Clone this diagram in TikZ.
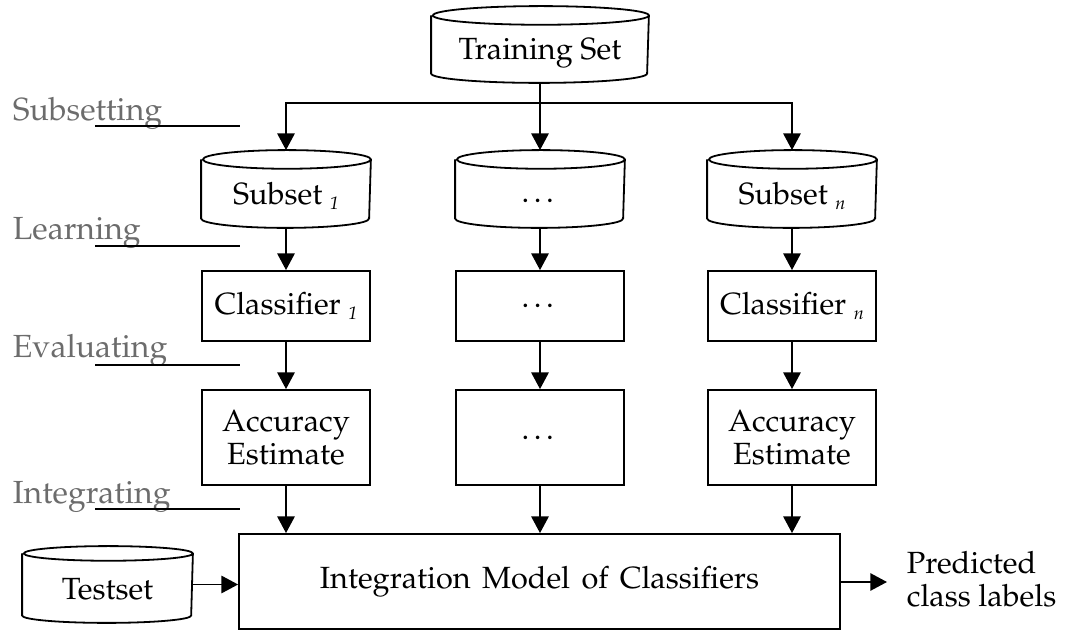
\documentclass[tikz,border=0pt]{standalone}
\usepackage[T1]{fontenc}
\usepackage{mathpazo}
\usetikzlibrary{arrows.meta}
\definecolor{stagegray}{RGB}{108,108,108}
% database drum around a named rectangle node: #1 name, #2 half width, #3 rim radius
\newcommand\drum[3]{%
  \draw ([yshift=-#3]#1.north west) -- ([yshift=#3]#1.south west)
    arc[start angle=180,end angle=360,x radius=#2,y radius=#3]
    -- ([yshift=-#3]#1.north east)
    arc[start angle=0,end angle=360,x radius=#2,y radius=#3];}
% text set on a baseline a fixed distance below the node centre
\newcommand\drumtext[2]{\raisebox{-#1}[0pt][0pt]{#2}}
\newcommand\idx[1]{\raisebox{-0.35ex}{\fontsize{13.5}{14}\selectfont\itshape #1}}
\begin{document}
\begin{tikzpicture}[x=0.75pt,y=-0.75pt,line width=1.35pt,
  every node/.style={font=\fontsize{23}{25}\selectfont},
  procbox/.style={draw,rectangle,inner sep=0pt,minimum width=126pt,align=center},
  drumnode/.style={rectangle,inner sep=0pt,minimum width=126pt,minimum height=57pt},
  flow/.style={-{Triangle[length=12.5pt,width=13pt]}},
  stage/.style={text=stagegray,anchor=base west,inner sep=0pt,font=\fontsize{24}{26}\selectfont},
  stagerule/.style={line width=1.35pt}]
\useasboundingbox (0,0) rectangle (1065,630);

% data sources
\node[drumnode,minimum width=162pt,minimum height=56.25pt] (train) at (540,44.5) {\drumtext{11.5pt}{Training Set}};
\drum{train}{81pt}{7pt}
\node[drumnode] (sub1) at (286,189) {\drumtext{11.5pt}{Subset \idx{1}}};
\node[drumnode] (sub2) at (540,189) {\drumtext{10pt}{\dots}};
\node[drumnode] (sub3) at (792,189) {\drumtext{11.5pt}{Subset \idx{n}}};
\foreach \s in {sub1,sub2,sub3} {\drum{\s}{63pt}{7pt}}
\node[drumnode,minimum width=126.75pt,minimum height=56.25pt] (test) at (107.5,584.5) {\drumtext{11.5pt}{Testset}};
\drum{test}{63.4pt}{5.5pt}

% learners
\node[procbox,minimum height=52.5pt] (cls1) at (286,306) {Classifier \idx{1}};
\node[procbox,minimum height=52.5pt] (cls2) at (540,306) {\dots};
\node[procbox,minimum height=52.5pt] (cls3) at (792,306) {Classifier \idx{n}};
\node[procbox,minimum height=71.25pt] (acc1) at (286,437.5) {Accuracy\\Estimate};
\node[procbox,minimum height=71.25pt] (acc2) at (540,437.5) {\dots};
\node[procbox,minimum height=71.25pt] (acc3) at (792,437.5) {Accuracy\\Estimate};
\node[procbox,minimum width=450.75pt,minimum height=71.25pt] (integ) at (539.5,581.5) {Integration\hspace{0.12em} Model\hspace{0.12em} of\hspace{0.12em} Classifiers};
\node[anchor=west,align=left,inner sep=0pt] (out) at (906,579) {Predicted\\class labels};

% connectors
\coordinate (split) at (540,103);
\draw (train.south) -- (split);
\draw[flow] (split) -| (sub1.north);
\draw[flow] (split) -- (sub2.north);
\draw[flow] (split) -| (sub3.north);
\foreach \i in {1,2,3} {
  \draw[flow] (sub\i.south) -- (cls\i.north);
  \draw[flow] (cls\i.south) -- (acc\i.north);
  \draw[flow] (acc\i.south) -- (acc\i.south |- integ.north);
}
\draw[flow] (test.east) -- (test.east -| integ.west);
\coordinate (outtip) at (887,582);
\draw[flow] (integ.east |- outtip) -- (outtip);

% stage labels with rules
\node[stage] (stsub) at (12,121) {Subsetting};
\node[stage] (stlearn) at (12,240) {Learning};
\node[stage] (steval) at (12,358) {Evaluating};
\node[stage] (stint) at (12,504) {Integrating};
\foreach \n/\y in {a/126,b/246,c/365,d/509} {
  \coordinate (r\n l) at (95,\y);
  \coordinate (r\n r) at (240,\y);
  \draw[stagerule] (r\n l) -- (r\n r);
}
\end{tikzpicture}
\end{document}
